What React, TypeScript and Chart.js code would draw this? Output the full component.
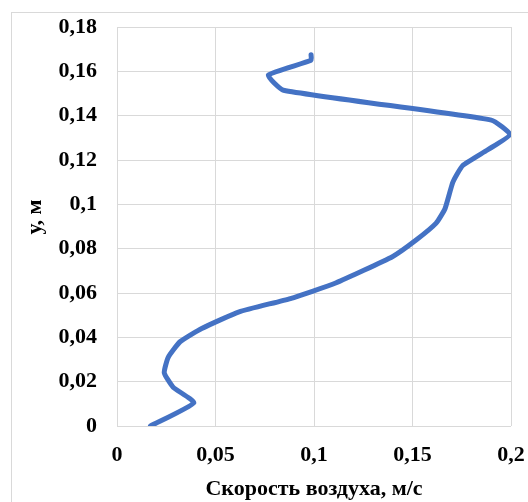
import React, { useEffect, useRef } from "react";
import { Chart, registerables } from "chart.js";

Chart.register(...registerables);

const velocity = [0.017, 0.039, 0.0285, 0.024, 0.026, 0.032, 0.043, 0.062, 0.088, 0.111, 0.14, 0.152, 0.162, 0.1665, 0.1705, 0.1755, 0.188, 0.1995, 0.19, 0.0845, 0.0768, 0.0985, 0.0985];
const height = [0, 0.0105, 0.0175, 0.024, 0.031, 0.038, 0.044, 0.0515, 0.0575, 0.0645, 0.0765, 0.084, 0.0915, 0.098, 0.11, 0.1175, 0.1245, 0.1315, 0.138, 0.1515, 0.1583, 0.165, 0.1675];

const xTickLabels = ["0", "0,05", "0,1", "0,15", "0,2"];
const yTickLabels = ["0", "0,02", "0,04", "0,06", "0,08", "0,1", "0,12", "0,14", "0,16", "0,18"];

const xTitle = "Скорость воздуха, м/с";
const yTitle = "у, м";

const FONT = "'Liberation Serif', 'Times New Roman', serif";

export default function App() {
  const ref = useRef<HTMLCanvasElement | null>(null);

  useEffect(() => {
    if (!ref.current) return;
    const titles = {
      id: "titles",
      afterDraw(chart: any) {
        const ctx = chart.ctx;
        const a = chart.chartArea;
        ctx.save();
        ctx.fillStyle = "#000";
        ctx.font = `bold 22px ${FONT}`;
        ctx.textAlign = "center";
        ctx.textBaseline = "middle";
        ctx.fillText(xTitle, (a.left + a.right) / 2, 489);
        ctx.translate(35, 217);
        ctx.rotate(-Math.PI / 2);
        ctx.fillText(yTitle, 0, 0);
        ctx.restore();
      },
    };
    const chart = new Chart(ref.current, {
      type: "scatter",
      data: {
        datasets: [
          {
            data: velocity.map((v, i) => ({ x: v, y: height[i] })),
            showLine: true,
            borderColor: "#4472C4",
            backgroundColor: "#4472C4",
            borderWidth: 5,
            pointRadius: 0,
            tension: 0.15,
            borderCapStyle: "round",
            borderJoinStyle: "round",
          } as any,
        ],
      },
      options: {
        animation: false,
        responsive: false,
        maintainAspectRatio: false,
        layout: { padding: { left: 0, top: 27, right: 17, bottom: 0 } },
        plugins: { legend: { display: false }, tooltip: { enabled: false } },
        scales: {
          x: {
            type: "linear",
            min: 0,
            max: 0.2,
            ticks: {
              stepSize: 0.05,
              padding: 16,
              color: "#000",
              font: { family: FONT, size: 22, weight: "bold" },
              callback: (_v: any, i: number) => xTickLabels[i],
            },
            grid: { color: "#d9d9d9", lineWidth: 1, drawTicks: false },
            border: { display: false },
            afterFit: (s: any) => {
              s.height = 76;
              s.paddingLeft = 0;
              s.paddingRight = 0;
            },
          },
          y: {
            type: "linear",
            min: 0,
            max: 0.18,
            ticks: {
              stepSize: 0.02,
              padding: 20,
              color: "#000",
              font: { family: FONT, size: 22, weight: "bold" },
              callback: (_v: any, i: number) => yTickLabels[i],
            },
            grid: { color: "#d9d9d9", lineWidth: 1, drawTicks: false },
            border: { display: false },
            afterFit: (s: any) => {
              s.width = 117;
              s.paddingTop = 0;
              s.paddingBottom = 0;
            },
          },
        },
      },
      plugins: [titles],
    });
    return () => chart.destroy();
  }, []);

  return (
    <div style={{ position: "fixed", left: 0, top: 0, width: 528, height: 502, background: "#fff", overflow: "hidden" }}>
      <div style={{ position: "absolute", left: 11, top: 12, width: 600, height: 600, border: "1px solid #d9d9d9", boxSizing: "border-box" }} />
      <canvas ref={ref} width={528} height={502} style={{ position: "absolute", left: 0, top: 0, width: 528, height: 502 }} />
    </div>
  );
}
